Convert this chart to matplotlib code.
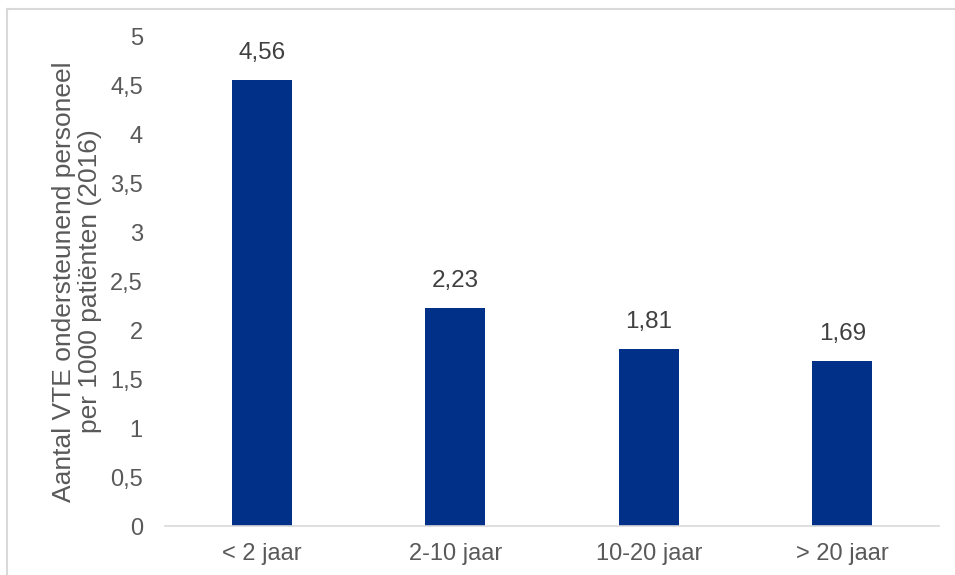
import matplotlib.pyplot as plt
from matplotlib.lines import Line2D

# data
categories = ["< 2 jaar", "2-10 jaar", "10-20 jaar", "> 20 jaar"]
values = [4.56, 2.23, 1.81, 1.69]
yticks = [0, 0.5, 1, 1.5, 2, 2.5, 3, 3.5, 4, 4.5, 5]

plt.rcParams['font.family'] = ['Liberation Sans', 'DejaVu Sans']

fig = plt.figure(figsize=(9.55, 5.75), dpi=100)
ax = fig.add_axes([0.1728, 0.0852, 0.8105, 0.8505])

x = range(len(categories))
ax.bar(x, values, width=0.31, color='#003087')

for i, v in enumerate(values):
    ax.text(i, v + 0.16, f"{v:.2f}".replace('.', ','), ha='center', va='bottom',
            fontsize=17.5, color='#404040')

ax.set_xlim(-0.5, 3.5)
ax.set_ylim(0, 5)
ax.set_yticks(yticks)
ax.set_yticklabels([f"{t:g}".replace('.', ',') for t in yticks])
ax.set_xticks(list(x))
ax.set_xticklabels(categories)
ax.tick_params(axis='both', length=0, labelsize=17, labelcolor='#595959')
ax.tick_params(axis='y', pad=16)
ax.tick_params(axis='x', pad=12)

for s in ['top', 'right', 'left']:
    ax.spines[s].set_visible(False)
ax.spines['bottom'].set_color('#d9d9d9')
ax.spines['bottom'].set_linewidth(1.2)

ax.set_ylabel("Aantal VTE ondersteunend personeel\nper 1000 patiënten (2016)",
              fontsize=19, color='#595959', linespacing=1.1)
ax.yaxis.set_label_coords(-0.114, 0.5)
ax.yaxis.label.set_va('center')

# chart border (top and left edges visible)
fig.add_artist(Line2D([7 / 955, 7 / 955], [0, 1 - 9 / 575], transform=fig.transFigure,
                      color='#d9d9d9', lw=1.5))
fig.add_artist(Line2D([7 / 955, 1], [1 - 9 / 575, 1 - 9 / 575], transform=fig.transFigure,
                      color='#d9d9d9', lw=1.5))

fig.savefig("out.png", dpi=100)
